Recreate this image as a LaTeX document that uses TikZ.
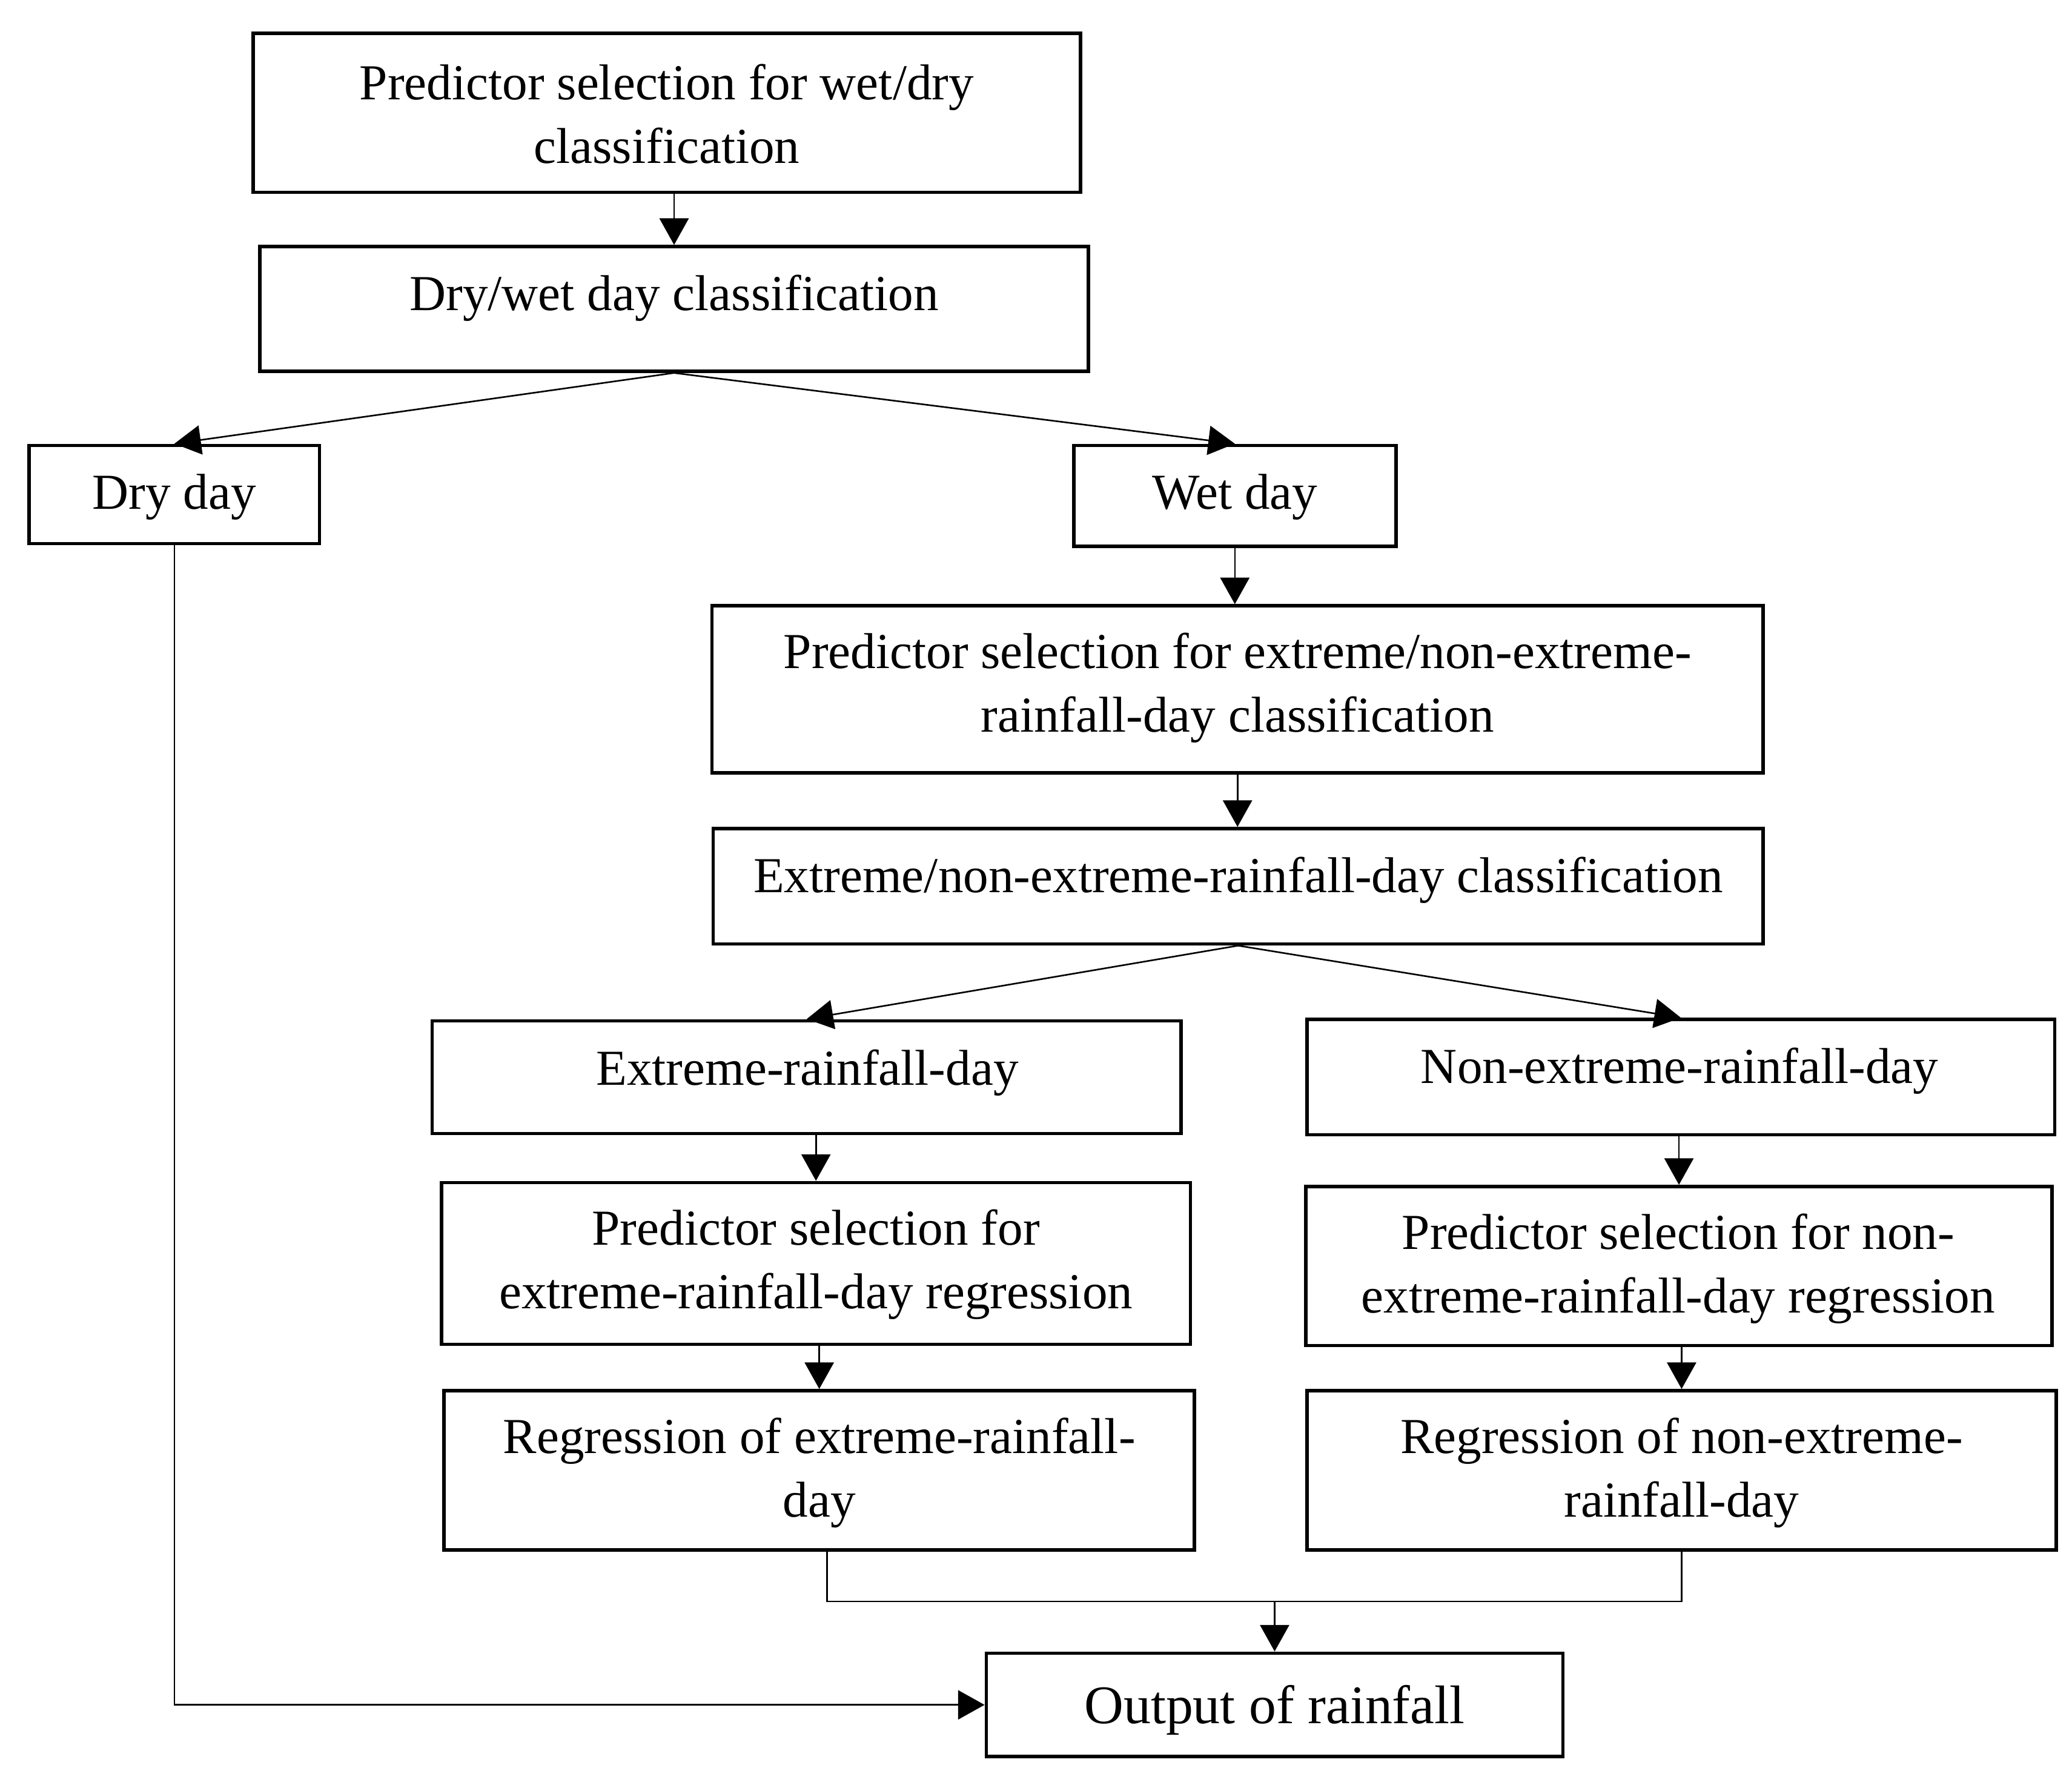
\documentclass[tikz,border=0pt]{standalone}
\usepackage{fontspec}
\setmainfont{Liberation Serif}
\usetikzlibrary{arrows.meta}
\begin{document}
\begin{tikzpicture}[x=0.5pt,y=-0.5pt,
  box/.style={draw,line width=1.3pt,inner sep=0pt},
  txt/.style={align=center,font=\fontsize{19}{24}\selectfont,inner sep=0pt},
  conn/.style={line width=0.6pt},
  arr/.style={conn,-{Triangle[length=10pt,width=11pt]}}]
\useasboundingbox (0,0) rectangle (1563,1333.6);
% boxes
\node[box,minimum width=312pt,minimum height=60pt] (b1) at (503,85) {};
\node[txt] (t1) at (503,86) {Predictor selection for wet/dry\\classification};
\node[box,minimum width=312.5pt,minimum height=47pt] (b2) at (508.5,233) {};
\node[txt] (t2) at (508.5,225) {Dry/wet day classification};
\node[box,minimum width=109.5pt,minimum height=37pt] (dry) at (131.5,373) {};
\node[txt] (tdry) at (131.5,375) {Dry day};
\node[box,minimum width=121.5pt,minimum height=38pt] (wet) at (931.5,374) {};
\node[txt] (twet) at (931.5,375) {Wet day};
\node[box,minimum width=396.5pt,minimum height=63pt] (pe) at (933.5,520) {};
\node[txt] (tpe) at (933.5,519) {Predictor selection for extreme/non-extreme-\\rainfall-day classification};
\node[box,minimum width=396pt,minimum height=43.5pt] (ec) at (934,668.5) {};
\node[txt] (tec) at (934,664) {Extreme/non-extreme-rainfall-day classification};
\node[box,minimum width=282.5pt,minimum height=42.5pt] (ex) at (608.5,812.5) {};
\node[txt] (tex) at (609,809) {Extreme-rainfall-day};
\node[box,minimum width=282pt,minimum height=43.5pt] (nx) at (1268,812.5) {};
\node[txt] (tnx) at (1267,808) {Non-extreme-rainfall-day};
\node[box,minimum width=282.5pt,minimum height=61pt] (pxe) at (615.5,953) {};
\node[txt] (tpxe) at (615.5,954) {Predictor selection for\\extreme-rainfall-day regression};
\node[box,minimum width=281.5pt,minimum height=60pt] (pxn) at (1266.5,955) {};
\node[txt] (tpxn) at (1266,957) {Predictor selection for non-\\extreme-rainfall-day regression};
\node[box,minimum width=283pt,minimum height=60pt] (re) at (618,1109) {};
\node[txt] (tre) at (618,1111) {Regression of extreme-rainfall-\\day};
\node[box,minimum width=282.5pt,minimum height=60pt] (rn) at (1268.5,1109) {};
\node[txt] (trn) at (1268.5,1111) {Regression of non-extreme-\\rainfall-day};
\node[box,minimum width=217.5pt,minimum height=39pt] (out) at (961.5,1286) {};
\node[txt,font=\fontsize{20.5}{24}\selectfont] (tout) at (961.5,1290) {Output of rainfall};
% connectors
\draw[arr] (b1.south -| b2.north) -- (b2.north);
\draw[arr] (b2.south) -- (dry.north);
\draw[arr] (b2.south) -- (wet.north);
\draw[arr] (wet.south) -- (wet.south |- pe.north);
\draw[arr] (pe.south) -- (pe.south |- ec.north);
\draw[arr] (ec.south) -- (ex.north);
\draw[arr] (ec.south) -- (nx.north);
\draw[arr] (pxe.north |- ex.south) -- (pxe.north);
\draw[arr] (pxn.north |- nx.south) -- (pxn.north);
\draw[arr] (re.north |- pxe.south) -- (re.north);
\draw[arr] (rn.north |- pxn.south) -- (rn.north);
\coordinate (mL) at (624,1208);
\coordinate (mR) at (1268.5,1208);
\draw[conn] (re.south -| mL) -- (mL) -- (mR) -- (rn.south -| mR);
\draw[arr] (out.north |- mL) -- (out.north);
\draw[arr] (dry.south) |- (out.west);
\end{tikzpicture}
\end{document}
